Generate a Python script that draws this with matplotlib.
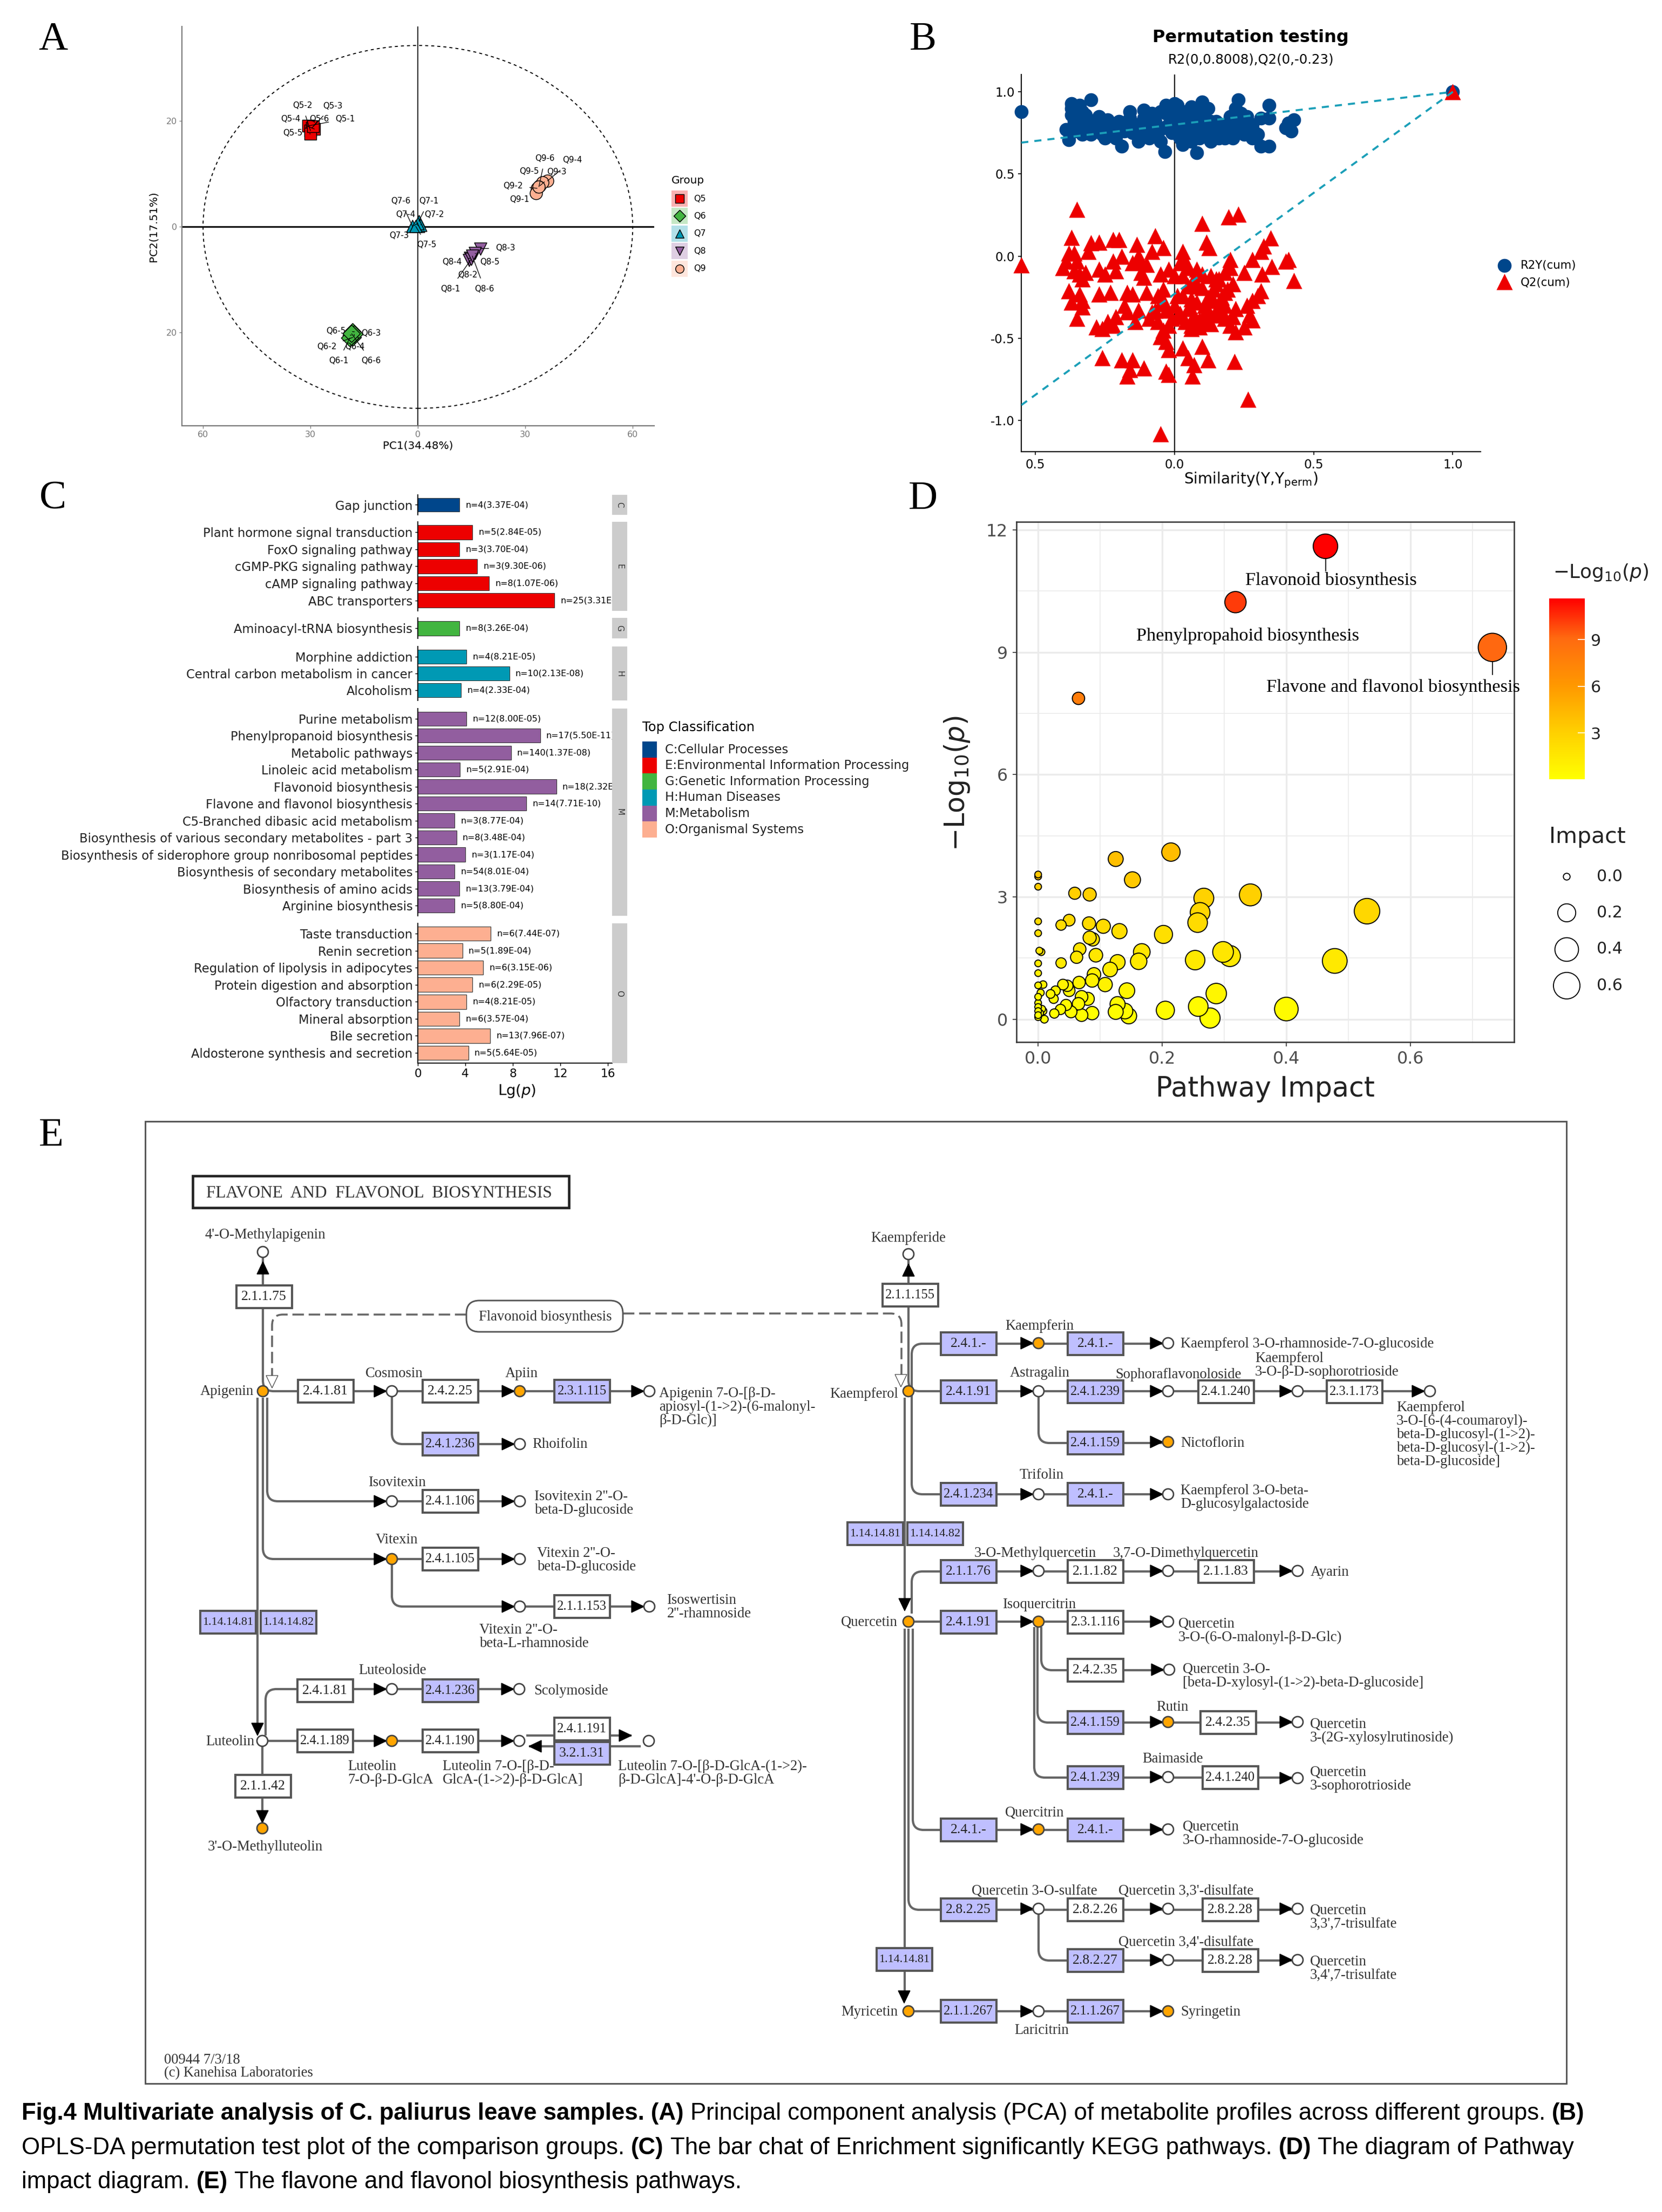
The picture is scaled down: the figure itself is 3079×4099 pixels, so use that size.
import numpy as np
import matplotlib
matplotlib.use("Agg")
import matplotlib.pyplot as plt
from matplotlib.cm import ScalarMappable
from matplotlib.colors import LinearSegmentedColormap, Normalize
from matplotlib.patches import Circle, Ellipse, FancyBboxPatch, PathPatch, Polygon, Rectangle
from matplotlib.path import Path

W, H = 3079, 4099
SERIF = "Liberation Serif"
SANS = "DejaVu Sans"
plt.rcParams["font.family"] = [SANS]
plt.rcParams["mathtext.fontset"] = "dejavusans"

# panel A
pca_groups = ["Q5", "Q6", "Q7", "Q8", "Q9"]
pca_colors = ["#ED0000", "#42B540", "#0099B4", "#925E9F", "#FDAF91"]
pca_markers = ["s", "D", "^", "v", "o"]
pca_pc1 = [
    [-30.6, -30.0, -29.6, -28.9, -30.0, -29.2],
    [-18.3, -18.6, -18.2, -17.8, -19.0, -18.5],
    [0.3, -1.5, 0.2, 0.8, 0.0, -0.6],
    [17.5, 16.0, 14.6, 14.3, 14.9, 15.2],
    [36.2, 34.1, 33.3, 33.0, 34.8, 33.8],
]
pca_pc2 = [
    [19.1, 18.2, 18.7, 18.5, 17.6, 19.0],
    [-19.8, -20.5, -20.9, -20.3, -21.0, -20.2],
    [1.1, 0.1, 0.2, 0.4, 0.7, 0.1],
    [-4.1, -5.0, -5.9, -6.3, -6.1, -5.5],
    [8.7, 7.8, 7.3, 6.4, 8.4, 7.6],
]
pca_sample_ids = [
    [1, 2, 3, 4, 5, 6],
    [3, 5, 2, 4, 1, 6],
    [1, 6, 4, 2, 3, 5],
    [3, 5, 4, 2, 1, 6],
    [4, 3, 2, 1, 5, 6],
]
pca_label_x = [
    [-20.3, -32.3, -23.8, -35.6, -34.9, -27.6],
    [-13.1, -22.9, -25.5, -17.6, -22.2, -13.1],
    [3.0, -4.8, -3.5, 4.6, -5.3, 2.5],
    [24.4, 20.1, 9.5, 13.9, 9.1, 18.6],
    [43.1, 38.7, 26.6, 28.4, 31.0, 35.5],
]
pca_label_y = [
    [20.4, 23.0, 22.9, 20.4, 17.8, 20.4],
    [-20.1, -19.7, -22.7, -22.7, -25.3, -25.3],
    [4.9, 4.9, 2.3, 2.3, -1.6, -3.4],
    [-4.0, -6.6, -6.6, -9.1, -11.7, -11.7],
    [12.6, 10.4, 7.8, 5.2, 10.5, 13.0],
]

# panel B
r2_sim = [-0.55, -0.39, -0.37, -0.37, -0.36, -0.38, -0.37, -0.34, -0.33, -0.34, -0.36, -0.34, -0.30, -0.31, -0.30,
          -0.27, -0.27, -0.26, -0.24, -0.25, -0.22, -0.22, -0.19, -0.19, -0.16, -0.16, -0.15, -0.14, -0.13, -0.11,
          -0.11, -0.10, -0.09, -0.07, -0.06, -0.05, -0.035, -0.03, -0.03, -0.02, -0.01, 0.0, 0.0, 0.0, 0.01, 0.01,
          0.02, 0.02, 0.03, 0.04, 0.05, 0.05, 0.06, 0.08, 0.08, 0.09, 0.10, 0.10, 0.11, 0.12, 0.12, 0.13, 0.14,
          0.15, 0.16, 0.18, 0.19, 0.20, 0.21, 0.22, 0.23, 0.23, 0.25, 0.26, 0.27, 0.28, 0.29, 0.31, 0.34, 0.31,
          0.34, 0.34, 0.40, 0.41, 0.43, 0.42, 0.03, -0.08, 0.06, -0.20,
          -0.35, -0.33, -0.32, -0.29, -0.28, -0.24, -0.21, -0.18, -0.17, -0.14, -0.12, -0.09, -0.08, -0.05, -0.04,
          -0.02, 0.0, 0.02, 0.03, 0.04, 0.06, 0.07, 0.07, 0.09, 0.11, 0.13, 0.14, 0.16, 0.17, 0.19, 0.21, 0.24,
          0.25, 0.28, 0.30, 1.0]
r2_val = [0.88, 0.77, 0.90, 0.86, 0.82, 0.71, 0.93, 0.92, 0.88, 0.84, 0.76, 0.78, 0.95, 0.80, 0.74,
          0.85, 0.80, 0.74, 0.83, 0.72, 0.80, 0.75, 0.67, 0.78, 0.88, 0.84, 0.75, 0.80, 0.70, 0.89,
          0.84, 0.78, 0.72, 0.82, 0.75, 0.70, 0.635, 0.92, 0.87, 0.80, 0.75, 0.93, 0.87, 0.83, 0.78, 0.92,
          0.84, 0.72, 0.68, 0.79, 0.85, 0.74, 0.70, 0.63, 0.80, 0.72, 0.94, 0.88, 0.83, 0.78, 0.90, 0.70, 0.74,
          0.82, 0.77, 0.72, 0.80, 0.85, 0.76, 0.90, 0.95, 0.80, 0.74, 0.85, 0.78, 0.72, 0.75, 0.67, 0.67, 0.84,
          0.92, 0.84, 0.78, 0.81, 0.83, 0.76, 0.88, 0.87, 0.91, 0.82,
          0.80, 0.74, 0.86, 0.77, 0.83, 0.78, 0.72, 0.76, 0.81, 0.77, 0.73, 0.85, 0.79, 0.88, 0.78,
          0.90, 0.77, 0.76, 0.80, 0.72, 0.82, 0.76, 0.89, 0.84, 0.76, 0.82, 0.79, 0.72, 0.80, 0.76, 0.72, 0.87,
          0.79, 0.80, 0.74, 1.0]
q2_sim = [-0.35, 0.10, 0.195, 0.23, -0.55, -0.37, -0.30, -0.27, -0.22, -0.20, -0.135, -0.07, -0.04, 0.03, 0.115,
          0.125, 0.345, 0.32, 0.31, 0.20, 0.28, 0.41, 0.40, 0.43, 0.35, 0.315, 0.25, -0.38, -0.39, -0.40,
          -0.36, -0.35, -0.34, -0.31, -0.33, -0.32, -0.27, -0.25, -0.21, -0.22, -0.19, -0.13, -0.12, -0.10, -0.08,
          -0.12, -0.05, -0.02, 0.0, 0.02, 0.04, 0.05, 0.08, 0.03, 0.10, 0.13, 0.18, 0.20, 0.16, 0.21,
          0.30, 0.31, 0.28, 0.26, 0.27, 0.28, 0.22, 0.18, 0.17, 0.12, 0.14, 0.15, 0.10, 0.18, 0.16,
          0.12, 0.08, 0.06, 0.05, 0.07, 0.10, 0.13, 0.04, 0.01, -0.03, -0.05, -0.06, -0.10, -0.15, -0.13,
          -0.17, -0.21, -0.22, -0.26, -0.28, -0.14, -0.06, -0.04, -0.05, -0.03, -0.02, 0.03, 0.05, 0.10, 0.12,
          0.07, 0.065, -0.03, -0.02, -0.26, -0.19, -0.15, -0.11, -0.16, -0.17, 0.215, 0.265, -0.05, -0.33, -0.34,
          -0.37, -0.33, -0.35, -0.27, -0.23, 0.20, 0.22, 0.25, 0.18, 0.21, 0.09, 0.0, 0.02,
          -0.01, -0.04, -0.07, -0.09, 0.03, 0.05, 0.08, 0.11, 0.14, 0.17, 0.15, 0.19, 0.12, 0.06, -0.02, -0.08,
          -0.11, -0.04, 0.01, 0.07, 0.11, 0.15, -0.15, -0.18, -0.38, -0.36, -0.24, -0.17, 0.06, 0.09, 1.0]
q2_val = [0.285, 0.20, 0.24, 0.255, -0.055, 0.115, 0.08, 0.085, 0.10, 0.10, 0.07, 0.125, 0.05, 0.03, 0.085,
          0.05, 0.11, 0.06, 0.03, -0.02, -0.02, -0.02, -0.03, -0.15, -0.065, -0.11, -0.10, 0.02, -0.03, -0.07,
          0.02, -0.03, -0.11, 0.03, -0.14, -0.10, -0.08, -0.11, -0.09, -0.03, 0.0, 0.0, -0.03, -0.05, 0.03,
          -0.10, -0.11, -0.08, -0.12, -0.04, -0.03, -0.07, -0.08, -0.12, -0.11, -0.12, -0.10, -0.07, -0.14, -0.17,
          -0.24, -0.21, -0.27, -0.30, -0.36, -0.39, -0.32, -0.30, -0.25, -0.25, -0.20, -0.17, -0.19, -0.22, -0.30,
          -0.33, -0.28, -0.26, -0.32, -0.36, -0.38, -0.41, -0.40, -0.37, -0.33, -0.29, -0.24, -0.22, -0.23, -0.33,
          -0.34, -0.37, -0.42, -0.44, -0.43, -0.40, -0.40, -0.45, -0.49, -0.52, -0.57, -0.56, -0.62, -0.55, -0.63,
          -0.66, -0.73, -0.70, -0.72, -0.62, -0.63, -0.63, -0.68, -0.69, -0.73, -0.64, -0.87, -1.08, -0.27, -0.23,
          -0.28, -0.31, -0.38, -0.23, -0.22, -0.42, -0.46, -0.43, -0.38, -0.37, -0.43, -0.30, -0.35,
          -0.38, -0.27, -0.33, -0.38, -0.24, -0.18, -0.18, -0.30, -0.27, -0.33, -0.14, -0.20, -0.40, -0.44, -0.42,
          -0.34, -0.13, -0.20, -0.24, -0.14, -0.35, -0.36, -0.04, -0.30, -0.21, -0.09, -0.40, -0.22, -0.42, -0.39, 1.0]
r2_intercept = 0.8008
q2_intercept = -0.23

# panel C
class_names = ["C:Cellular Processes", "E:Environmental Information Processing", "G:Genetic Information Processing",
               "H:Human Diseases", "M:Metabolism", "O:Organismal Systems"]
class_letters = ["C", "E", "G", "H", "M", "O"]
class_colors = ["#00468B", "#ED0000", "#42B540", "#0099B4", "#925E9F", "#FDAF91"]
kegg_names = [
    ["Gap junction"],
    ["Plant hormone signal transduction", "FoxO signaling pathway", "cGMP-PKG signaling pathway",
     "cAMP signaling pathway", "ABC transporters"],
    ["Aminoacyl-tRNA biosynthesis"],
    ["Morphine addiction", "Central carbon metabolism in cancer", "Alcoholism"],
    ["Purine metabolism", "Phenylpropanoid biosynthesis", "Metabolic pathways", "Linoleic acid metabolism",
     "Flavonoid biosynthesis", "Flavone and flavonol biosynthesis", "C5-Branched dibasic acid metabolism",
     "Biosynthesis of various secondary metabolites - part 3",
     "Biosynthesis of siderophore group nonribosomal peptides", "Biosynthesis of secondary metabolites",
     "Biosynthesis of amino acids", "Arginine biosynthesis"],
    ["Taste transduction", "Renin secretion", "Regulation of lipolysis in adipocytes",
     "Protein digestion and absorption", "Olfactory transduction", "Mineral absorption", "Bile secretion",
     "Aldosterone synthesis and secretion"],
]
kegg_values = [
    [3.5],
    [4.6, 3.5, 5.0, 6.0, 11.5],
    [3.5],
    [4.1, 7.7, 3.65],
    [4.1, 10.3, 7.85, 3.55, 11.65, 9.15, 3.1, 3.25, 4.0, 3.1, 3.5, 3.1],
    [6.15, 3.75, 5.5, 4.6, 4.1, 3.5, 6.1, 4.25],
]
kegg_notes = [
    ["n=4(3.37E-04)"],
    ["n=5(2.84E-05)", "n=3(3.70E-04)", "n=3(9.30E-06)", "n=8(1.07E-06)", "n=25(3.31E-12)"],
    ["n=8(3.26E-04)"],
    ["n=4(8.21E-05)", "n=10(2.13E-08)", "n=4(2.33E-04)"],
    ["n=12(8.00E-05)", "n=17(5.50E-11)", "n=140(1.37E-08)", "n=5(2.91E-04)", "n=18(2.32E-12)", "n=14(7.71E-10)",
     "n=3(8.77E-04)", "n=8(3.48E-04)", "n=3(1.17E-04)", "n=54(8.01E-04)", "n=13(3.79E-04)", "n=5(8.80E-04)"],
    ["n=6(7.44E-07)", "n=5(1.89E-04)", "n=6(3.15E-06)", "n=6(2.29E-05)", "n=4(8.21E-05)", "n=6(3.57E-04)",
     "n=13(7.96E-07)", "n=5(5.64E-05)"],
]

# panel D
impact = [0.463, 0.318, 0.732, 0.065, 0.214, 0.125, 0.152, 0.0, 0.0, 0.0, 0.059, 0.083, 0.267, 0.342, 0.261, 0.257,
          0.53, 0.05, 0.037, 0.0, 0.0, 0.082, 0.105, 0.131, 0.202, 0.083, 0.088, 0.067, 0.002, 0.005, 0.298, 0.309,
          0.167, 0.093, 0.062, 0.128, 0.162, 0.253, 0.478, 0.037, 0.0, 0.116, 0.0, 0.09, 0.087, 0.066, 0.108, 0.04,
          0.047, 0.008, 0.0, 0.287, 0.143, 0.05, 0.028, 0.02, 0.004, 0.025, 0.08, 0.07, 0.128, 0.065, 0.045, 0.258,
          0.4, 0.205, 0.14, 0.125, 0.146, 0.277, 0.087, 0.07, 0.053, 0.036, 0.026, 0.0, 0.0, 0.0, 0.0, 0.0, 0.0,
          0.003, 0.008, 0.01, 0.006]
log_p = [11.6, 10.23, 9.12, 7.87, 4.1, 3.93, 3.42, 3.55, 3.5, 3.25, 3.09, 3.06, 2.97, 3.05, 2.62, 2.37,
         2.65, 2.43, 2.31, 2.4, 2.11, 2.35, 2.28, 2.16, 2.08, 2.0, 1.96, 1.72, 1.68, 1.65, 1.65, 1.55,
         1.65, 1.57, 1.52, 1.4, 1.42, 1.45, 1.43, 1.38, 1.37, 1.22, 1.13, 1.1, 0.95, 0.9, 0.85, 0.85,
         0.82, 0.85, 0.83, 0.63, 0.7, 0.7, 0.7, 0.62, 0.65, 0.5, 0.5, 0.55, 0.37, 0.38, 0.35, 0.31,
         0.25, 0.22, 0.2, 0.18, 0.08, 0.03, 0.15, 0.1, 0.18, 0.24, 0.14, 0.55, 0.4, 0.3, 0.2, 0.1, 0.05,
         0.15, 0.2, 0.0, 0.25]
impact_legend = [0.0, 0.2, 0.4, 0.6]

# panel E: enzyme boxes, compound dots, connecting lines and names of the KEGG map
enzymes_white = [
    (489, 2403, "2.1.1.75"), (603, 2578, "2.4.1.81"), (834, 2578, "2.4.2.25"), (834, 2782, "2.4.1.106"),
    (834, 2889, "2.4.1.105"), (1078, 2977, "2.1.1.153"), (602, 3133, "2.4.1.81"), (602, 3226, "2.4.1.189"),
    (834, 3226, "2.4.1.190"), (1078, 3204, "2.4.1.191"), (487, 3310, "2.1.1.42"), (1686, 2400, "2.1.1.155"),
    (2271, 2579, "2.4.1.240"), (2509, 2579, "2.3.1.173"), (2029, 2912, "2.1.1.82"), (2271, 2912, "2.1.1.83"),
    (2029, 3006, "2.3.1.116"), (2029, 3095, "2.4.2.35"), (2275, 3192, "2.4.2.35"), (2279, 3294, "2.4.1.240"),
    (2029, 3539, "2.8.2.26"), (2279, 3539, "2.8.2.28"), (2279, 3633, "2.8.2.28"),
]
enzymes_blue = [
    (1078, 2578, "2.3.1.115"), (834, 2676, "2.4.1.236"), (422, 3006, "1.14.14.81"), (534, 3006, "1.14.14.82"),
    (834, 3133, "2.4.1.236"), (1078, 3249, "3.2.1.31"), (1794, 2490, "2.4.1.-"), (2029, 2490, "2.4.1.-"),
    (1794, 2579, "2.4.1.91"), (2029, 2579, "2.4.1.239"), (2029, 2674, "2.4.1.159"), (1794, 2769, "2.4.1.234"),
    (2029, 2769, "2.4.1.-"), (1621, 2842, "1.14.14.81"), (1732, 2842, "1.14.14.82"), (1794, 2912, "2.1.1.76"),
    (1794, 3006, "2.4.1.91"), (2029, 3192, "2.4.1.159"), (2029, 3294, "2.4.1.239"), (1794, 3391, "2.4.1.-"),
    (2029, 3391, "2.4.1.-"), (1794, 3539, "2.8.2.25"), (2029, 3633, "2.8.2.27"), (1675, 3631, "1.14.14.81"),
    (1794, 3727, "2.1.1.267"), (2029, 3727, "2.1.1.267"),
]
compounds_detected = [
    (487, 2578, ""), (963, 2578, "r"), (726, 2889, "r"), (726, 3226, "r"), (486, 3388, ""), (1683, 2578, ""),
    (1924, 2489, "r"), (2164, 2672, "r"), (1683, 3005, ""), (1924, 3005, "r"), (2164, 3191, "r"), (1924, 3390, "r"),
    (1683, 3727, ""), (2164, 3727, "r"),
]
compounds_other = [
    (487, 2320, ""), (726, 2578, "r"), (1203, 2578, "r"), (963, 2676, "r"), (726, 2782, "r"), (963, 2782, "r"),
    (963, 2889, "r"), (963, 2977, "r"), (1203, 2977, "r"), (726, 3130, "r"), (962, 3130, "r"), (486, 3226, ""),
    (962, 3226, "r"), (1202, 3226, ""), (1683, 2324, ""), (2164, 2489, "r"), (1924, 2578, "r"), (2164, 2578, "r"),
    (2404, 2578, "r"), (2649, 2578, "r"), (1924, 2769, "r"), (2164, 2769, "r"), (1924, 2911, "r"), (2164, 2911, "r"),
    (2404, 2911, "r"), (2164, 3005, "r"), (2166, 3094, "r"), (2404, 3191, "r"), (2164, 3293, "r"), (2404, 3295, "r"),
    (2164, 3390, "r"), (1924, 3537, "r"), (2164, 3537, "r"), (2404, 3537, "r"), (2164, 3632, "r"), (2404, 3632, "r"),
    (1924, 3727, "r"),
]
extra_heads = [
    (487, 2338, "u"), (1683, 2342, "u"), (477, 3216, "d"), (1170, 3216, "r"), (980, 3236, "l"), (486, 3378, "d"),
    (1676, 2985, "d"), (1675, 3712, "d"),
]
pathway_lines = [
    [(487, 2320), (487, 2578), (1203, 2578)],
    [(726, 2578), (726, 2676), (963, 2676)],
    [(477, 2590), (477, 3205)],
    [(495, 2590), (495, 2782), (963, 2782)],
    [(487, 2590), (487, 2889), (963, 2889)],
    [(726, 2889), (726, 2977), (1203, 2977)],
    [(492, 3216), (492, 3130), (962, 3130)],
    [(486, 3226), (962, 3226)],
    [(486, 3226), (486, 3388)],
    [(975, 3216), (1170, 3216)],
    [(1187, 3236), (980, 3236)],
    [(1683, 2324), (1683, 2578), (2649, 2578)],
    [(2164, 2490), (1689, 2490), (1689, 2769), (2164, 2769)],
    [(1924, 2578), (1924, 2674), (2164, 2674)],
    [(1676, 2590), (1676, 2975)],
    [(1689, 2990), (1689, 2912), (2404, 2912)],
    [(1683, 3005), (2164, 3005)],
    [(1929, 3015), (1929, 3095), (2166, 3095)],
    [(1922, 3015), (1922, 3192), (2404, 3192)],
    [(1916, 3015), (1916, 3294), (2404, 3294)],
    [(1691, 3018), (1691, 3391), (2164, 3391)],
    [(1683, 3018), (1683, 3539), (2404, 3539)],
    [(1676, 3018), (1676, 3702)],
    [(1924, 3539), (1924, 3633), (2404, 3633)],
    [(1683, 3727), (2164, 3727)],
]
dashed_lines = [
    [(864, 2436), (504, 2436), (504, 2553)],
    [(1154, 2434), (1670, 2434), (1670, 2553)],
]
hollow_heads = [(504, 2572), (1669, 2570)]
centred_names = [
    (491, 2288, "4'-O-Methylapigenin"), (730, 2545, "Cosmosin"), (966, 2545, "Apiin"), (736, 2747, "Isovitexin"),
    (735, 2853, "Vitexin"), (727, 3095, "Luteoloside"), (491, 3422, "3'-O-Methylluteolin"), (420, 2578, "Apigenin"),
    (426, 3227, "Luteolin"), (1683, 2294, "Kaempferide"), (1601, 2583, "Kaempferol"), (1926, 2457, "Kaempferin"),
    (1926, 2544, "Astragalin"), (2183, 2547, "Sophoraflavonoloside"), (1930, 2733, "Trifolin"),
    (1918, 2878, "3-O-Methylquercetin"), (2197, 2878, "3,7-O-Dimethylquercetin"), (1610, 3006, "Quercetin"),
    (1926, 2973, "Isoquercitrin"), (2172, 3163, "Rutin"), (2172, 3259, "Baimaside"), (1917, 3359, "Quercitrin"),
    (1916, 3504, "Quercetin 3-O-sulfate"), (2197, 3504, "Quercetin 3,3'-disulfate"),
    (2197, 3599, "Quercetin 3,4'-disulfate"), (1611, 3728, "Myricetin"), (1930, 3762, "Laricitrin"),
]
left_names = [
    (1221, 2582, ["Apigenin 7-O-[β-D-", "apiosyl-(1->2)-(6-malonyl-", "β-D-Glc)]"]),
    (986, 2676, ["Rhoifolin"]),
    (990, 2773, ["Isovitexin 2''-O-", "beta-D-glucoside"]),
    (995, 2878, ["Vitexin 2''-O-", "beta-D-glucoside"]),
    (1236, 2965, ["Isoswertisin", "2''-rhamnoside"]),
    (888, 3020, ["Vitexin 2''-O-", "beta-L-rhamnoside"]),
    (989, 3133, ["Scolymoside"]),
    (644, 3273, ["Luteolin", "7-O-β-D-GlcA"]),
    (820, 3273, ["Luteolin 7-O-[β-D-", "GlcA-(1->2)-β-D-GlcA]"]),
    (1145, 3273, ["Luteolin 7-O-[β-D-GlcA-(1->2)-", "β-D-GlcA]-4'-O-β-D-GlcA"]),
    (304, 3817, ["00944 7/3/18", "(c) Kanehisa Laboratories"]),
    (2187, 2490, ["Kaempferol 3-O-rhamnoside-7-O-glucoside"]),
    (2325, 2517, ["Kaempferol", "3-O-β-D-sophorotrioside"]),
    (2587, 2608, ["Kaempferol", "3-O-[6-(4-coumaroyl)-", "beta-D-glucosyl-(1->2)-", "beta-D-glucosyl-(1->2)-",
                  "beta-D-glucoside]"]),
    (2187, 2674, ["Nictoflorin"]),
    (2187, 2762, ["Kaempferol 3-O-beta-", "D-glucosylgalactoside"]),
    (2428, 2913, ["Ayarin"]),
    (2183, 3009, ["Quercetin", "3-O-(6-O-malonyl-β-D-Glc)"]),
    (2191, 3093, ["Quercetin 3-O-", "[beta-D-xylosyl-(1->2)-beta-D-glucoside]"]),
    (2427, 3195, ["Quercetin", "3-(2G-xylosylrutinoside)"]),
    (2427, 3284, ["Quercetin", "3-sophorotrioside"]),
    (2191, 3385, ["Quercetin", "3-O-rhamnoside-7-O-glucoside"]),
    (2427, 3540, ["Quercetin", "3,3',7-trisulfate"]),
    (2427, 3635, ["Quercetin", "3,4',7-trisulfate"]),
    (2187, 3728, ["Syringetin"]),
]

# caption, (text, bold) runs per line
caption_lines = [
    [("Fig.4 Multivariate analysis of C. paliurus leave samples. (A)", True),
     ("Principal component analysis (PCA) of metabolite profiles across different groups.", False), ("(B)", True)],
    [("OPLS-DA permutation test plot of the comparison groups.", False), ("(C)", True),
     ("The bar chat of Enrichment significantly KEGG pathways.", False), ("(D)", True),
     ("The diagram of Pathway", False)],
    [("impact diagram.", False), ("(E)", True), ("The flavone and flavonol biosynthesis pathways.", False)],
]


def px_axes(fig, x0, y0, x1, y1, **kwargs):
    """Axes placed by the pixel box of the reference picture"""
    return fig.add_axes([x0 / W, 1 - y1 / H, (x1 - x0) / W, (y1 - y0) / H], **kwargs)


def plot_pca(fig, ov):
    ax = px_axes(fig, 337, 49, 1212, 789)
    ax.set_xlim(-65.9, 66)
    ax.set_ylim(-37.6, 37.9)
    for side in ["top", "right"]:
        ax.spines[side].set_visible(False)
    for side in ["left", "bottom"]:
        ax.spines[side].set_color("#777777")
        ax.spines[side].set_linewidth(0.5)
    ax.axhline(0, color="black", lw=0.7)
    ax.axvline(0, color="black", lw=0.4)
    ax.add_patch(Ellipse((0, 0), 120, 68.6, fill=False, ec="black", ls=(0, (3, 3)), lw=0.45))
    for i, group in enumerate(pca_groups):
        ax.scatter(pca_pc1[i], pca_pc2[i], s=30, c=pca_colors[i], marker=pca_markers[i],
                   edgecolors="black", linewidths=0.35, zorder=3)
        for j, sid in enumerate(pca_sample_ids[i]):
            ax.annotate(f"{group}-{sid}", xy=(pca_pc1[i][j], pca_pc2[i][j]),
                        xytext=(pca_label_x[i][j], pca_label_y[i][j]), fontsize=3.6, ha="center", va="center",
                        arrowprops=dict(arrowstyle="-", lw=0.3, color="black", shrinkA=1, shrinkB=0), zorder=4)
    ax.set_xticks([-60, -30, 0, 30, 60], ["60", "30", "0", "30", "60"])
    ax.set_yticks([-20, 0, 20], ["20", "0", "20"])
    ax.tick_params(labelsize=3.8, labelcolor="#777777", color="#777777", length=1.2, width=0.3, pad=1)
    ov.text(774, 826, "PC1(34.48%)", fontsize=4.8, ha="center", va="center")
    ov.text(284, 420, "PC2(17.51%)", fontsize=4.8, ha="center", va="center", rotation=90)
    ov.text(1244, 334, "Group", fontsize=4.8, ha="left", va="center")
    for i, group in enumerate(pca_groups):
        y = 368 + 32.4 * i
        ov.add_patch(Rectangle((1244, y - 15), 30, 30, fc=pca_colors[i], ec="none", alpha=0.3))
        ov.scatter([1259], [y], s=14, c=pca_colors[i], marker=pca_markers[i], edgecolors="black", linewidths=0.35)
        ov.text(1285, y, group, fontsize=3.8, ha="left", va="center")


def plot_permutation(fig, ov):
    ax = px_axes(fig, 1892, 138, 2743, 837)
    ax.set_xlim(-0.55, 1.10)
    ax.set_ylim(-1.19, 1.106)
    for side in ["top", "right"]:
        ax.spines[side].set_visible(False)
    for side in ["left", "bottom"]:
        ax.spines[side].set_linewidth(0.5)
    ax.axvline(0, color="black", lw=0.5, zorder=2)
    ax.scatter(r2_sim, r2_val, s=38, c="#00468B", marker="o", linewidths=0, zorder=3, clip_on=False)
    ax.scatter(q2_sim, q2_val, s=52, c="#ED0000", marker="^", linewidths=0, zorder=3, clip_on=False)
    ax.plot([-0.55, 1.0], [r2_intercept - 0.55 * (1 - r2_intercept), 1.0], color="#1b9fb8", lw=0.9,
            ls=(0, (3.5, 3)), zorder=4)
    ax.plot([-0.55, 1.0], [q2_intercept - 0.55 * (1 - q2_intercept), 1.0], color="#1b9fb8", lw=0.9,
            ls=(0, (3.5, 3)), zorder=4)
    ax.set_xticks([-0.5, 0, 0.5, 1.0], ["0.5", "0.0", "0.5", "1.0"])
    ax.set_yticks([-1, -0.5, 0, 0.5, 1], ["-1.0", "-0.5", "0.0", "0.5", "1.0"])
    ax.tick_params(labelsize=5.5, length=1.5, width=0.4, pad=1.5)
    ov.text(2317, 69, "Permutation testing", fontsize=7.7, fontweight="bold", ha="center", va="center")
    ov.text(2317, 110, "R2(0,0.8008),Q2(0,-0.23)", fontsize=5.85, ha="center", va="center")
    ov.text(2317, 890, r"Similarity(Y,Y$_{\mathrm{perm}}$)", fontsize=6.7, ha="center", va="center")
    ov.scatter([2787], [492], s=38, c="#00468B", marker="o", linewidths=0)
    ov.scatter([2787], [522], s=52, c="#ED0000", marker="^", linewidths=0)
    ov.text(2817, 492, "R2Y(cum)", fontsize=5.1, ha="left", va="center")
    ov.text(2817, 524, "Q2(cum)", fontsize=5.1, ha="left", va="center")


def plot_enrichment(fig, ov):
    tops = [50, 118, 358, 430, 585, 1123]
    bottoms = [100, 340, 410, 565, 1104, 1473]
    for i, letter in enumerate(class_letters):
        y0 = 880 + tops[i] * 0.74
        y1 = 880 + bottoms[i] * 0.74
        ax = px_axes(fig, 774, y0, 1134, y1)
        n = len(kegg_names[i])
        ypos = np.arange(n)
        ax.barh(ypos, kegg_values[i], height=0.84, color=class_colors[i], edgecolor="#333333", linewidth=0.25)
        ax.set_xlim(0, 16.35)
        ax.set_ylim(n - 1 + 0.6, -0.6)
        for j, note in enumerate(kegg_notes[i]):
            ax.text(kegg_values[i][j] + 0.5, j, note, fontsize=3.8, va="center", ha="left", clip_on=True)
        ax.set_yticks(ypos, kegg_names[i])
        ax.tick_params(axis="y", labelsize=5.45, length=1.3, width=0.35, pad=1, labelcolor="#222222")
        for side in ["top", "right", "bottom"]:
            ax.spines[side].set_visible(False)
        ax.spines["left"].set_linewidth(0.45)
        if letter == "O":
            ax.spines["bottom"].set_visible(True)
            ax.spines["bottom"].set_linewidth(0.45)
            ax.set_xticks([0, 4, 8, 12, 16])
            ax.tick_params(axis="x", labelsize=5.2, length=1.3, width=0.35, pad=1)
        else:
            ax.set_xticks([])
        ov.add_patch(Rectangle((1134, y0), 28, y1 - y0, fc="#cccccc", ec="none"))
        ov.text(1148, (y0 + y1) / 2, letter, fontsize=3.6, rotation=-90, ha="center", va="center", color="#333333")
    ov.text(958, 2037, r"Lg($p$)", fontsize=6.6, ha="center", va="bottom")
    ov.text(1190, 1348, "Top Classification", fontsize=5.8, ha="left", va="center")
    for i, name in enumerate(class_names):
        y = 1389 + 29.6 * i
        ov.add_patch(Rectangle((1190, y - 14.8), 27, 29.6, fc=class_colors[i], ec="none"))
        ov.text(1232, y, name, fontsize=5.45, ha="left", va="center", color="#222222")


def impact_to_size(values):
    return np.interp(values, [0, 0.05, 0.1, 0.2, 0.4, 0.6, 0.75], [3.0, 5.2, 6.2, 8.0, 10.5, 11.8, 12.7]) ** 2


def plot_pathway_impact(fig, ov):
    cmap = LinearSegmentedColormap.from_list(
        "heat", [(0, "#ffff00"), (0.26, "#ffd000"), (0.52, "#ff9800"), (0.78, "#ff6a10"), (1, "#ff0000")])
    norm = Normalize(0.02, 11.64)
    ax = px_axes(fig, 1883, 967, 2805, 1931)
    ax.set_xlim(-0.035, 0.767)
    ax.set_ylim(-0.56, 12.2)
    ax.set_axisbelow(True)
    ax.set_xticks([0, 0.2, 0.4, 0.6])
    ax.set_xticks([0.1, 0.3, 0.5, 0.7], minor=True)
    ax.set_yticks([0, 3, 6, 9, 12])
    ax.set_yticks([1.5, 4.5, 7.5, 10.5], minor=True)
    ax.grid(which="major", color="#ebebeb", lw=0.8)
    ax.grid(which="minor", color="#ebebeb", lw=0.4)
    ax.tick_params(which="minor", length=0)
    ax.tick_params(which="major", labelsize=7.6, labelcolor="#4d4d4d", color="#333333", length=1.8, width=0.4, pad=2)
    for spine in ax.spines.values():
        spine.set_color("#333333")
        spine.set_linewidth(0.6)
    order = np.argsort(impact)[::-1]
    ax.scatter(np.array(impact)[order], np.array(log_p)[order], s=impact_to_size(np.array(impact)[order]),
               c=np.array(log_p)[order], cmap=cmap, norm=norm, edgecolors="black", linewidths=0.45, zorder=3)
    ax.plot([0.463, 0.463], [11.6, 11.0], color="black", lw=0.4, zorder=2)
    ax.plot([0.732, 0.732], [9.12, 8.45], color="black", lw=0.4, zorder=2)
    ax.text(0.472, 10.77, "Flavonoid biosynthesis", family=SERIF, fontsize=8.25, ha="center", va="center")
    ax.text(0.338, 9.4, "Phenylpropahoid biosynthesis", family=SERIF, fontsize=8.25, ha="center", va="center")
    ax.text(0.572, 8.15, "Flavone and flavonol biosynthesis", family=SERIF, fontsize=8.25, ha="center", va="center",
            clip_on=False)
    ov.text(2344, 2018, "Pathway Impact", fontsize=12.2, ha="center", va="center", color="#222222")
    ov.text(1773, 1452, r"$-\mathrm{Log}_{10}(p)$", fontsize=12.2, ha="center", va="center", rotation=90,
            color="#222222")
    # colour bar
    cax = px_axes(fig, 2870, 1109, 2936, 1444)
    cbar = fig.colorbar(ScalarMappable(norm=norm, cmap=cmap), cax=cax, ticks=[3, 6, 9])
    cbar.outline.set_visible(False)
    cax.tick_params(color="white", length=3.2, width=0.4, labelsize=7.2, labelcolor="#222222", pad=2.5, direction="in")
    ov.text(2966, 1061, r"$-\mathrm{Log}_{10}(p)$", fontsize=8.6, ha="center", va="center", color="#222222")
    # size legend
    ov.text(2870, 1551, "Impact", fontsize=9.8, ha="left", va="center", color="#222222")
    for i, value in enumerate(impact_legend):
        y = 1624 + 67.4 * i
        ov.scatter([2902], [y], s=impact_to_size(value), facecolors="white", edgecolors="black", linewidths=0.45)
        ov.text(2982, y, f"{value:.1f}", fontsize=7.2, ha="center", va="center", color="#222222")


def rounded_path(points, r=20):
    """Polyline whose corners are rounded like the KEGG connectors"""
    verts = [points[0]]
    codes = [Path.MOVETO]
    for k in range(1, len(points) - 1):
        p = np.array(points[k], float)
        a = np.array(points[k - 1], float)
        b = np.array(points[k + 1], float)
        p_in = p + (a - p) / np.linalg.norm(a - p) * min(r, np.linalg.norm(a - p) / 2)
        p_out = p + (b - p) / np.linalg.norm(b - p) * min(r, np.linalg.norm(b - p) / 2)
        verts += [tuple(p_in), tuple(p), tuple(p_out)]
        codes += [Path.LINETO, Path.CURVE3, Path.CURVE3]
    verts.append(points[-1])
    codes.append(Path.LINETO)
    return Path(verts, codes)


def head(ov, x, y, direction, hollow=False):
    """Triangle arrow head with its tip at x, y"""
    length, half = 23, 11
    shapes = {
        "r": [(x, y), (x - length, y - half), (x - length, y + half)],
        "l": [(x, y), (x + length, y - half), (x + length, y + half)],
        "u": [(x, y), (x - half, y + length), (x + half, y + length)],
        "d": [(x, y), (x - half, y - length), (x + half, y - length)],
    }
    ov.add_patch(Polygon(shapes[direction], closed=True, fc="white" if hollow else "black",
                         ec="#444444" if hollow else "black", lw=0.3, zorder=4))


def plot_kegg_map(ov):
    ov.add_patch(Rectangle((269, 2078), 2633, 1783, fill=False, ec="#555555", lw=0.7))
    ov.add_patch(Rectangle((357, 2179), 697, 59, fill=False, ec="#222222", lw=1.1))
    ov.text(702, 2211, "FLAVONE  AND  FLAVONOL  BIOSYNTHESIS", family=SERIF, fontsize=7.5, ha="center", va="center",
            color="#333333")
    for line in pathway_lines:
        ov.add_patch(PathPatch(rounded_path(line), fill=False, ec="#666666", lw=1.0, zorder=2))
    for line in dashed_lines:
        ov.add_patch(PathPatch(rounded_path(line), fill=False, ec="#666666", lw=0.85, ls=(0, (6, 2.5)), zorder=2))
    for x, y in hollow_heads:
        head(ov, x, y, "d", hollow=True)
    ov.add_patch(FancyBboxPatch((864, 2410), 290, 58, boxstyle="round,pad=0,rounding_size=24", fc="white",
                                ec="#555555", lw=0.7, zorder=3))
    ov.text(1010, 2440, "Flavonoid biosynthesis", family=SERIF, fontsize=6.4, ha="center", va="center",
            color="#333333", zorder=5)
    label_sizes = {7: 6.2, 8: 6.2, 9: 5.9, 10: 5.3}
    for group, face in [(enzymes_white, "white"), (enzymes_blue, "#bfbfff")]:
        for x, y, label in group:
            ov.add_patch(Rectangle((x - 51.5, y - 21), 103, 42, fc=face, ec="#555555", lw=0.95, zorder=3))
            ov.text(x, y, label, family=SERIF, fontsize=label_sizes[len(label)], ha="center", va="center",
                    color="#222222", zorder=5)
    for group, face in [(compounds_detected, "#ffa500"), (compounds_other, "white")]:
        for x, y, arrow in group:
            ov.add_patch(Circle((x, y), 10, fc=face, ec="#444444", lw=0.65, zorder=5))
            if arrow == "r":
                head(ov, x - 10, y, "r")
    for x, y, direction in extra_heads:
        head(ov, x, y, direction)
    for x, y, label in centred_names:
        ov.text(x, y, label, family=SERIF, fontsize=6.4, ha="center", va="center", color="#333333", zorder=5)
    for x, y, lines in left_names:
        for k, label in enumerate(lines):
            ov.text(x, y + 25 * k, label, family=SERIF, fontsize=6.4, ha="left", va="center", color="#333333", zorder=5)


def draw_caption(fig, ov):
    renderer = fig.canvas.get_renderer()
    line_y = [3916, 3980, 4043]
    size = 10.5
    probe = ov.text(0, 0, "a a", fontsize=size, family="Liberation Sans")
    probe2 = ov.text(0, 0, "aa", fontsize=size, family="Liberation Sans")
    space = probe.get_window_extent(renderer).width - probe2.get_window_extent(renderer).width
    probe.remove()
    probe2.remove()
    for y, runs in zip(line_y, caption_lines):
        x = 40
        for text, bold in runs:
            t = ov.text(x, y, text, fontsize=size, family="Liberation Sans", fontweight="bold" if bold else "normal",
                        ha="left", va="center")
            x += t.get_window_extent(renderer).width + space


def main():
    fig = plt.figure(figsize=((W + 0.01) / 300, (H + 0.01) / 300), dpi=300)
    ov = fig.add_axes([0, 0, 1, 1], zorder=10)
    ov.set_xlim(0, W)
    ov.set_ylim(H, 0)
    ov.axis("off")

    plot_pca(fig, ov)
    plot_permutation(fig, ov)
    plot_enrichment(fig, ov)
    plot_pathway_impact(fig, ov)
    plot_kegg_map(ov)
    draw_caption(fig, ov)

    for label, x, y in [("A", 98, 74), ("B", 1710, 74), ("C", 98, 925), ("D", 1710, 925), ("E", 95, 2105)]:
        ov.text(x, y, label, family=SERIF, fontsize=18, ha="center", va="center")

    fig.savefig("out.png", dpi=300)


if __name__ == "__main__":
    main()
